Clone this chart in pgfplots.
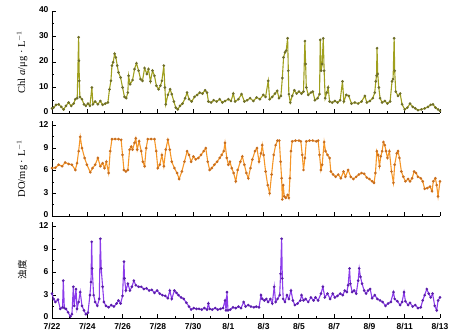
\documentclass[border=0pt]{standalone}
\usepackage{fontspec}
\setmainfont{Liberation Serif}
\setsansfont{Liberation Sans}
\newfontfamily\cjk{Noto Sans CJK SC}
\usepackage{pgfplots}
\pgfplotsset{compat=1.18}
\definecolor{olv}{RGB}{160,160,30}
\definecolor{olvd}{RGB}{110,110,40}
\definecolor{org}{RGB}{245,150,40}
\definecolor{orgd}{RGB}{200,110,30}
\definecolor{prp}{RGB}{140,60,235}
\definecolor{prpd}{RGB}{90,30,170}
\pgfplotsset{
  panel/.style={
    scale only axis, width=388pt,
    xmin=0, xmax=22,
    axis x line=bottom, axis y line=left,
    axis line style={-, line width=0.9pt},
    xtick={0,2,...,22}, minor xtick={1,3,...,21},
    tick align=inside,
    major tick length=3.5pt, minor tick length=2pt,
    every tick/.style={black, line width=0.9pt},
    minor y tick num=1,
    /pgf/number format/assume math mode=true,
    tick label style={font=\sffamily\bfseries\fontsize{8.5}{9}\selectfont},
    yticklabel style={yshift=1pt},
    xticklabel style={yshift=-1.5pt},
    ylabel style={at={(axis description cs:-0.077,0.5)}, anchor=center, font=\fontsize{10.5}{12}\selectfont},
    clip=false,
  },
  ser/.style={line width=1.1pt, mark=*, mark size=0.7pt},
}
\begin{document}
\begin{tikzpicture}
\useasboundingbox (-52pt,-18pt) rectangle (397pt,318pt);
% ---------- Chl a ----------
\begin{axis}[panel, at={(0pt,205pt)}, height=102pt,
  ymin=0, ymax=40, ytick={0,10,20,30,40}, xticklabels={},
  ylabel={Chl \textit{a}/μg · L$^{-1}$}]
\addplot[ser, color=olv, mark options={fill=olvd, draw=olvd}] table {
0.00 1.8
0.09 2.1
0.23 3.2
0.38 3.4
0.53 2.4
0.66 1.4
0.79 2.8
0.94 4.1
1.09 2.8
1.23 3.7
1.32 5.4
1.43 5.8
1.51 29.7
1.53 20.5
1.55 12.6
1.58 6.3
1.70 5.4
1.81 3.4
1.92 2.8
2.04 3.7
2.15 2.8
2.26 10.0
2.32 3.4
2.45 4.5
2.60 3.4
2.74 4.7
2.87 3.2
3.02 3.7
3.17 4.1
3.26 9.3
3.34 12.6
3.40 18.6
3.47 19.9
3.55 23.2
3.62 21.8
3.70 18.6
3.77 15.9
3.89 13.9
4.00 10.0
4.11 6.3
4.21 5.8
4.30 8.0
4.34 14.6
4.43 11.3
4.57 12.9
4.68 17.2
4.79 19.5
4.91 16.6
5.02 13.3
5.13 12.6
5.25 17.6
5.38 15.3
5.47 17.2
5.58 12.4
5.70 16.6
5.81 14.6
5.92 10.7
6.04 9.3
6.15 10.7
6.23 12.6
6.34 18.6
6.40 10.0
6.45 3.4
6.57 7.1
6.70 9.3
6.79 7.4
6.91 4.5
7.02 2.1
7.13 1.4
7.26 2.8
7.40 3.7
7.55 5.8
7.66 8.0
7.77 5.4
7.92 4.5
8.08 6.3
8.23 7.1
8.38 8.0
8.53 7.6
8.68 8.9
8.79 8.0
8.87 4.5
9.02 4.1
9.17 5.0
9.34 4.5
9.51 5.4
9.66 4.1
9.81 4.7
10.00 5.4
10.15 4.7
10.28 7.6
10.38 4.5
10.57 5.4
10.75 7.4
10.91 4.5
11.06 5.0
11.23 5.8
11.42 4.7
11.60 6.1
11.79 5.4
11.98 7.1
12.11 6.3
12.26 12.6
12.34 5.4
12.49 6.3
12.64 7.6
12.77 8.7
12.87 5.8
12.98 6.7
13.06 13.7
13.13 21.8
13.21 23.8
13.28 24.5
13.36 29.3
13.40 16.6
13.43 7.4
13.51 4.1
13.62 6.7
13.74 8.9
13.87 7.6
14.00 8.4
14.15 7.6
14.26 8.4
14.34 28.2
14.38 19.2
14.42 10.0
14.53 7.1
14.68 8.0
14.79 8.4
14.91 5.0
15.06 5.8
15.17 7.4
15.21 28.7
15.26 16.6
15.32 19.2
15.38 29.3
15.43 16.6
15.49 5.8
15.58 8.0
15.66 10.0
15.74 4.5
15.89 4.1
16.04 4.7
16.19 4.1
16.34 5.0
16.47 12.4
16.55 4.5
16.68 7.1
16.83 6.7
16.98 3.7
17.17 4.1
17.36 3.7
17.55 4.5
17.74 6.7
17.85 4.1
18.02 4.7
18.19 5.8
18.30 8.0
18.36 12.4
18.40 14.6
18.43 25.4
18.47 15.3
18.53 10.0
18.60 5.8
18.72 4.1
18.87 4.7
19.02 3.7
19.17 4.5
19.28 12.4
19.34 13.3
19.40 29.3
19.43 16.6
19.49 8.4
19.62 6.7
19.74 7.6
19.85 3.4
20.00 1.4
20.15 2.1
20.30 3.7
20.45 2.4
20.60 1.8
20.75 1.1
20.94 1.4
21.13 1.8
21.32 2.4
21.47 3.2
21.60 3.4
21.74 2.1
21.89 1.4
22.00 0.8
};
\end{axis}
% ---------- DO ----------
\begin{axis}[panel, at={(0pt,102pt)}, height=95pt,
  ymin=0, ymax=12.6, ytick={0,3,6,9,12}, xticklabels={},
  ylabel={DO/mg · L$^{-1}$}]
\addplot[ser, color=org, mark options={fill=orgd, draw=orgd}] table {
0.00 6.35
0.19 6.4
0.38 6.8
0.57 6.6
0.75 7.1
0.94 6.9
1.13 6.8
1.32 6.1
1.42 7.0
1.51 8.6
1.60 10.5
1.70 9.0
1.85 7.7
1.98 6.8
2.17 5.8
2.30 6.35
2.45 6.8
2.60 7.7
2.74 6.6
2.87 7.0
2.98 6.35
3.08 7.2
3.21 5.7
3.30 8.6
3.40 10.2
3.58 10.2
3.77 10.2
3.92 10.1
4.00 8.1
4.08 6.1
4.19 5.9
4.30 6.1
4.40 8.8
4.49 9.2
4.57 8.8
4.68 9.7
4.75 10.3
4.83 8.8
4.94 9.9
5.06 8.6
5.15 7.2
5.25 6.6
5.34 9.0
5.43 10.2
5.62 10.2
5.81 10.2
5.91 8.6
6.00 6.35
6.11 6.8
6.23 8.1
6.34 6.6
6.45 8.8
6.57 10.1
6.68 8.8
6.79 7.2
6.94 6.35
7.09 5.7
7.21 4.9
7.36 5.9
7.51 7.2
7.66 8.6
7.77 8.1
7.89 7.2
8.02 7.9
8.15 7.5
8.30 7.7
8.45 8.1
8.60 8.6
8.72 9.0
8.83 7.2
8.94 6.1
9.06 6.35
9.21 6.8
9.36 7.2
9.51 7.7
9.62 8.1
9.74 8.6
9.81 9.7
9.91 7.7
10.00 6.8
10.09 7.2
10.19 6.35
10.30 5.7
10.42 4.6
10.53 6.1
10.68 7.2
10.79 7.9
10.91 6.8
11.02 5.7
11.13 5.0
11.25 6.35
11.36 7.5
11.51 8.6
11.62 9.0
11.74 7.2
11.85 8.3
11.92 9.4
12.00 8.1
12.11 5.9
12.23 4.1
12.34 3.0
12.45 5.5
12.57 8.1
12.68 9.4
12.79 10.0
12.89 10.0
12.96 7.2
13.02 5.0
13.06 2.2
13.11 4.1
13.17 2.6
13.25 2.4
13.36 2.8
13.43 2.4
13.49 5.0
13.55 8.6
13.62 9.9
13.81 10.0
14.00 10.0
14.11 9.9
14.19 8.1
14.26 6.1
14.34 7.7
14.42 9.9
14.60 10.0
14.79 10.0
14.98 9.9
15.09 10.0
15.17 8.1
15.25 6.1
15.32 6.8
15.43 9.8
15.51 8.6
15.62 8.1
15.74 7.7
15.81 5.9
15.94 5.5
16.08 5.2
16.23 5.5
16.38 5.0
16.53 5.9
16.64 5.2
16.79 6.1
16.94 5.2
17.09 4.9
17.25 5.2
17.40 5.5
17.55 5.7
17.70 5.6
17.85 5.1
18.00 4.9
18.15 4.6
18.26 4.4
18.34 5.7
18.42 8.6
18.49 8.1
18.57 6.6
18.64 7.9
18.72 8.6
18.79 9.8
18.87 9.4
18.94 8.6
19.02 7.7
19.13 8.6
19.25 5.9
19.36 4.4
19.43 6.8
19.55 8.3
19.62 8.6
19.70 7.7
19.81 5.9
19.92 5.2
20.04 4.6
20.19 4.9
20.30 4.6
20.42 5.0
20.53 5.9
20.64 5.7
20.75 5.2
20.91 5.0
21.02 4.6
21.13 3.6
21.28 3.7
21.43 3.9
21.55 3.3
21.62 4.6
21.74 5.0
21.81 4.1
21.89 2.6
22.00 4.6
};
\end{axis}
% ---------- Turbidity ----------
\begin{axis}[panel, at={(0pt,0pt)}, height=96pt,
  ymin=0, ymax=12.6, ytick={0,3,6,9,12},
  xticklabels={7/22,7/24,7/26,7/28,7/30,8/1,8/3,8/5,8/7,8/9,8/11,8/13},
  ylabel={\cjk\fontsize{9.5}{11}\selectfont 浊度}]
\addplot[ser, color=prp, mark options={fill=prpd, draw=prpd}] table {
0.00 3.2
0.09 2.5
0.19 2.1
0.34 2.4
0.47 1.2
0.60 1.4
0.64 4.9
0.70 1.3
0.79 1.2
0.91 0.75
1.04 0.2
1.13 0.5
1.21 4.1
1.26 1.6
1.36 3.8
1.42 1.2
1.51 2.1
1.60 3.4
1.70 1.6
1.81 1.0
1.92 0.5
2.04 0.7
2.15 3.0
2.21 4.7
2.25 10.0
2.28 6.5
2.36 3.0
2.45 2.1
2.57 1.6
2.68 2.5
2.74 10.4
2.79 6.5
2.87 4.1
2.94 2.1
3.06 1.6
3.21 1.4
3.36 1.7
3.51 1.5
3.66 1.9
3.77 2.3
3.89 1.9
4.00 2.9
4.08 7.4
4.11 5.2
4.19 3.6
4.30 4.5
4.42 3.6
4.53 4.1
4.64 4.9
4.75 4.3
4.91 4.1
5.06 4.1
5.21 3.8
5.36 3.9
5.51 3.6
5.66 3.7
5.81 3.3
5.96 3.6
6.11 3.2
6.26 3.0
6.42 2.9
6.57 2.6
6.68 3.6
6.79 2.5
6.94 3.6
7.06 3.3
7.17 3.0
7.32 2.7
7.47 2.5
7.62 2.0
7.77 1.5
7.89 1.1
8.04 1.3
8.19 1.2
8.34 1.2
8.49 1.1
8.64 1.3
8.79 1.1
8.87 1.9
8.94 1.2
9.09 1.1
9.25 1.3
9.40 1.1
9.55 1.2
9.70 1.3
9.81 2.3
9.87 1.0
9.92 3.4
9.98 1.0
10.11 1.1
10.26 1.4
10.42 1.3
10.57 1.5
10.72 1.3
10.87 2.1
10.98 1.5
11.13 1.7
11.28 1.5
11.45 1.4
11.58 1.5
11.74 1.4
11.85 3.0
11.92 2.5
12.04 2.3
12.15 2.5
12.26 2.1
12.38 2.5
12.49 1.9
12.60 4.1
12.68 2.1
12.79 2.5
12.91 3.0
12.96 5.8
13.02 10.4
13.06 5.2
13.11 2.5
13.21 2.1
13.32 3.0
13.43 2.5
13.55 3.6
13.66 2.3
13.77 1.7
13.92 1.9
14.08 2.3
14.15 3.0
14.26 2.3
14.38 2.5
14.53 2.1
14.68 2.7
14.83 2.3
14.94 2.7
15.09 2.3
15.25 3.2
15.36 4.1
15.47 2.7
15.62 3.2
15.77 2.5
15.92 3.2
16.04 2.7
16.19 2.9
16.34 3.2
16.49 3.0
16.60 3.6
16.72 3.4
16.79 4.3
16.87 6.5
16.92 4.5
17.02 3.4
17.13 3.6
17.25 3.2
17.36 4.9
17.42 6.5
17.49 5.4
17.58 4.5
17.70 3.6
17.81 3.2
17.92 3.6
18.04 3.8
18.15 2.6
18.30 3.0
18.45 2.5
18.60 2.3
18.75 2.1
18.91 1.6
19.06 1.9
19.21 2.1
19.36 3.4
19.43 2.5
19.58 2.2
19.74 1.7
19.85 2.1
19.96 3.4
20.04 2.2
20.19 1.7
20.30 2.0
20.45 1.5
20.60 1.7
20.75 1.3
20.91 1.4
21.02 2.3
21.13 3.0
21.25 3.8
21.36 3.2
21.47 2.7
21.58 3.2
21.70 1.6
21.81 1.0
21.89 2.3
22.00 2.7
};
\end{axis}
\end{tikzpicture}
\end{document}
